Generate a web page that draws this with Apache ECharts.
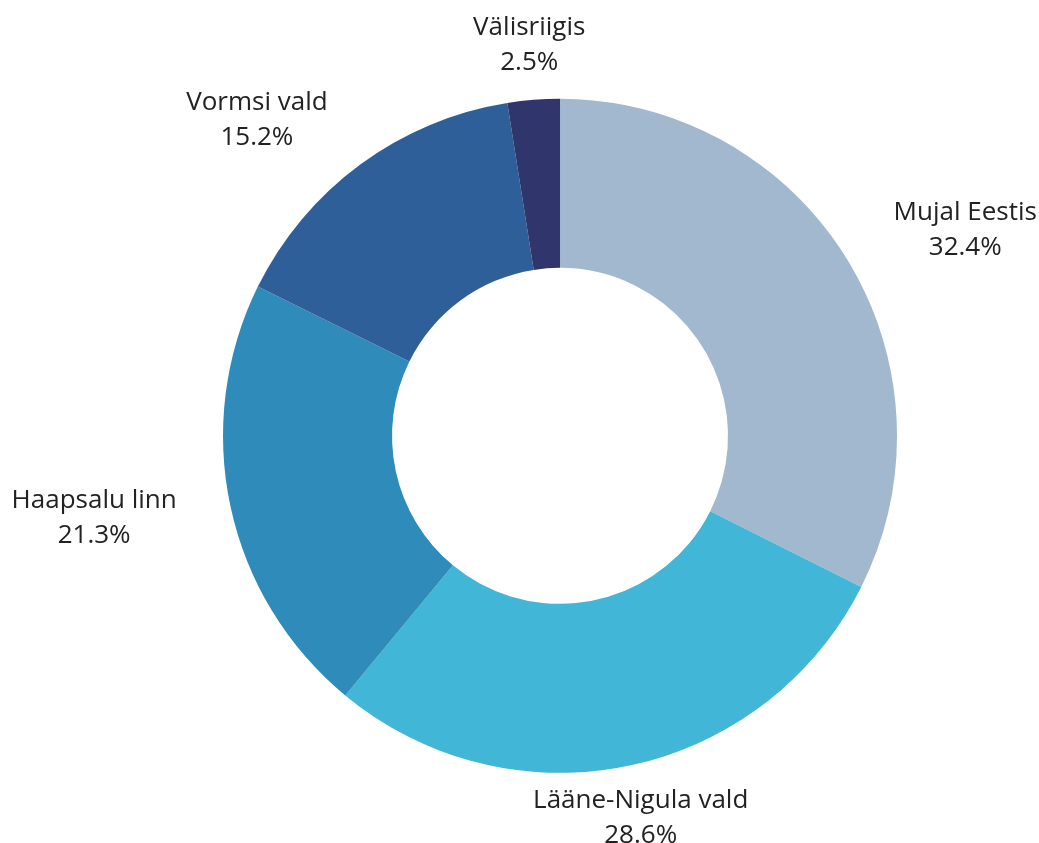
<!DOCTYPE html>
<html>
<head>
<meta charset="utf-8">
<script src="https://cdn.jsdelivr.net/npm/echarts@6/dist/echarts.min.js"></script>
<style>
    html, body { margin: 0; padding: 0; background: #fff; }
    #myChart { width: 1039px; height: 843px; }
</style>
</head>
<body>
<div id="myChart"></div>
<script>
    // elukoht (osakaal, %)
    const categories = ['Mujal Eestis', 'Lääne-Nigula vald', 'Haapsalu linn', 'Vormsi vald', 'Välisriigis'];
    const shares = [32.4, 28.6, 21.3, 15.2, 2.5];
    const colors = ['#A2B8CE', '#41B6D6', '#2E8BBA', '#2E5F98', '#30356B'];

    const total = shares.reduce((a, b) => a + b, 0);

    // lähedal üla/alaservale -> silt keskele joondatud
    function midAngle(i) {
        let before = 0;
        for (let k = 0; k < i; k++) before += shares[k];
        return (before + shares[i] / 2) / total * Math.PI * 2;
    }

    const el = document.getElementById('myChart');

    let option = {
        backgroundColor: '#fff',
        animation: false,
        series: [{
            type: 'pie',
            center: ['53.9%', '51.7%'],
            radius: [168, 337],
            startAngle: 90,
            clockwise: true,
            avoidLabelOverlap: false,
            itemStyle: {
                borderWidth: 0
            },
            label: {
                show: true,
                position: 'outside',
                distanceToLabelLine: 0,
                formatter: function (p) {
                    return '{n|' + p.name + '}\n{n|' + p.value.toFixed(1) + '%}';
                },
                rich: {
                    n: {
                        align: 'center',
                        fontFamily: 'Open Sans',
                        fontSize: 26,
                        lineHeight: 35,
                        color: '#222'
                    }
                }
            },
            labelLine: {
                show: false,
                length: 55,
                length2: 0
            },
            labelLayout: function (params) {
                const a = midAngle(params.dataIndex);
                let res = Math.abs(Math.sin(a)) < 0.4 ? { align: 'center' } : {};
                // hoia silt pildi sees
                const r = params.labelRect;
                const over = r.y + r.height - (el.clientHeight + 6);
                if (over > 0) res.dy = -over;
                return res;
            },
            emphasis: { disabled: true },
            data: categories.map((name, i) => ({
                name: name,
                value: shares[i],
                itemStyle: { color: colors[i] }
            }))
        }]
    };

    const myChart = echarts.init(el);
    myChart.setOption(option);
</script>
</body>
</html>
